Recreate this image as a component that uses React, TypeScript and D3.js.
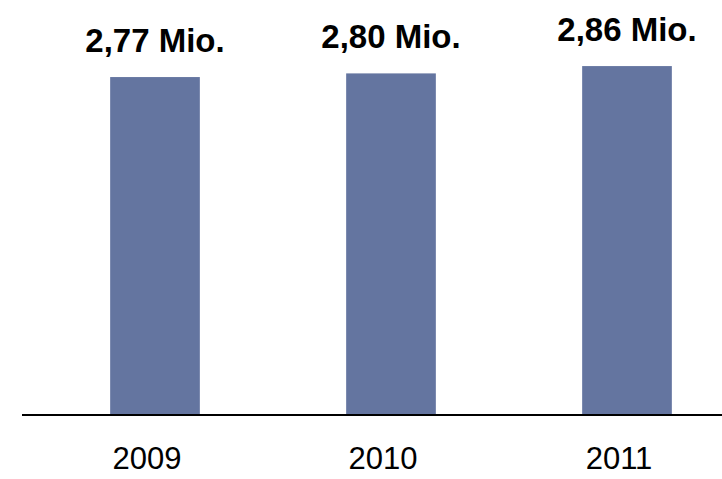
import React, { useEffect, useRef } from "react";
import * as d3 from "d3";

const years = ["2009", "2010", "2011"];
const values = [2.77, 2.8, 2.86];
const valueLabels = ["2,77 Mio.", "2,80 Mio.", "2,86 Mio."];

const BarChart = () => {
  const ref = useRef<SVGSVGElement | null>(null);
  const width = 722,
    height = 479,
    baseline = 415;

  useEffect(() => {
    const svg = d3.select(ref.current);
    svg.selectAll("*").remove();

    const xScale = d3
      .scaleBand()
      .domain(years)
      .range([37, 745])
      .paddingInner(0.62)
      .paddingOuter(0.31);

    const yScale = d3.scaleLinear().domain([0, 3]).range([baseline, baseline - 366]);

    const data = years.map((y, i) => ({ year: y, value: values[i], label: valueLabels[i] }));

    svg
      .selectAll("rect.bar")
      .data(data)
      .enter()
      .append("rect")
      .attr("class", "bar")
      .attr("x", (d) => xScale(d.year)!)
      .attr("width", xScale.bandwidth())
      .attr("y", (d) => yScale(d.value))
      .attr("height", (d) => yScale(0) - yScale(d.value))
      .style("fill", "#6475a0");

    // baseline
    svg
      .append("line")
      .attr("x1", 22)
      .attr("x2", width)
      .attr("y1", baseline)
      .attr("y2", baseline)
      .style("stroke", "#000")
      .style("stroke-width", 2);

    svg
      .selectAll("text.value")
      .data(data)
      .enter()
      .append("text")
      .attr("class", "value")
      .attr("x", (d) => xScale(d.year)! + xScale.bandwidth() / 2)
      .attr("y", (d) => yScale(d.value) - 25)
      .attr("text-anchor", "middle")
      .style("font-family", "Arial, 'Liberation Sans', sans-serif")
      .style("font-weight", "bold")
      .style("font-size", "33px")
      .text((d) => d.label);

    svg
      .selectAll("text.year")
      .data(data)
      .enter()
      .append("text")
      .attr("class", "year")
      .attr("x", (d) => xScale(d.year)! + xScale.bandwidth() / 2 - 8)
      .attr("y", 469)
      .attr("text-anchor", "middle")
      .style("font-family", "Arial, 'Liberation Sans', sans-serif")
      .style("font-size", "31px")
      .text((d) => d.year);
  }, []);

  return (
    <svg
      ref={ref}
      width={width}
      height={height}
      style={{ position: "absolute", left: 0, top: 0, background: "#fff" }}
    />
  );
};

export default function App() {
  return <BarChart />;
}
